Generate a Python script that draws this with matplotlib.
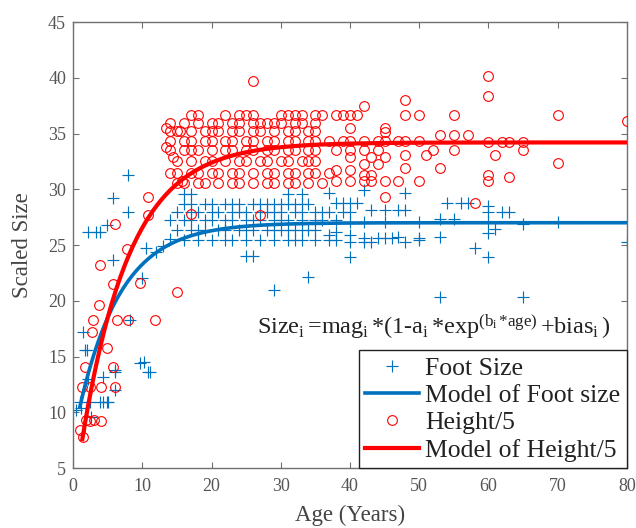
import numpy as np
import matplotlib
matplotlib.use("Agg")
import matplotlib.pyplot as plt

# ---------------- data ----------------
foot_age = [
    # young
    0.5, 1.0, 1.2, 1.5, 1.7, 2.0, 2.1, 2.5, 2.6, 3.9, 4.4, 4.4, 4.9, 5.1, 6.1, 6.1, 6.1,
    8.2, 9.7, 10.2, 10.9, 11.1, 5.8, 9.9, 10.6, 2.2, 3.3, 3.9, 4.9, 5.8, 8.0, 8.0,
    12, 13, 14,
    # row 29.6
    16, 17, 31, 33, 37, 42, 48,
    # row 28.7
    16, 17, 19, 20, 22, 23, 24, 26, 27, 28, 29, 30, 31, 32, 33, 34, 38, 39, 40, 41, 54, 56, 57, 60,
    # row 28.0
    15, 17, 18, 20, 21, 23, 24, 25, 27, 28, 29, 30, 32, 33, 35, 36, 37, 39, 40, 43, 45, 47, 48, 60, 62, 63,
    # row 27.2
    14, 16, 17, 19, 20, 22, 23, 25, 26, 27, 29, 30, 31, 33, 35, 36, 38, 40, 42, 45, 50, 53, 55, 60, 65, 70,
    # row 26.35
    15, 17, 18, 19, 21, 22, 24, 25, 26, 28, 29, 30, 31, 32, 33, 34, 35, 37, 38, 40, 42, 44, 47, 50, 60, 61,
    # row 25.45
    16, 18, 20, 22, 23, 25, 27, 29, 31, 32, 33, 35, 37, 38, 40, 42, 43, 45, 46, 48, 50, 53, 80,
    # outliers
    25, 26, 40, 58, 60, 29, 34, 53, 65,
]
foot_size = [
    10.2, 10.9, 10.4, 17.2, 15.6, 15.6, 13.0, 10.95, 9.6, 10.95, 10.95, 13.2, 10.95, 10.95, 13.6, 12.0, 13.8,
    18.3, 14.4, 14.55, 13.6, 13.65, 23.65, 22.0, 24.7, 26.2, 26.2, 26.2, 26.8, 29.2, 31.3, 28.0,
    24.4, 24.9, 25.5,
    29.6, 29.6, 29.6, 29.6, 29.7, 29.9, 29.7,
    28.7, 28.7, 28.7, 28.7, 28.7, 28.7, 28.7, 28.7, 28.7, 28.7, 28.7, 28.7, 28.7, 28.7, 28.7, 28.7,
    28.8, 28.8, 28.8, 28.8, 28.8, 28.8, 28.8, 28.5,
    28.0, 28.0, 28.0, 28.0, 28.0, 28.0, 28.0, 28.0, 28.0, 28.0, 28.0, 28.0, 28.0, 28.0, 28.0, 28.0,
    28.0, 28.0, 28.0, 28.1, 28.1, 28.1, 28.1, 28.0, 28.0, 28.0,
    27.2, 27.2, 27.2, 27.2, 27.2, 27.2, 27.2, 27.2, 27.2, 27.2, 27.2, 27.2, 27.2, 27.2, 27.2, 27.2,
    27.2, 27.05, 27.05, 27.05, 27.05, 27.3, 27.3, 27.05, 26.9, 27.05,
    26.35, 26.35, 26.35, 26.35, 26.35, 26.35, 26.35, 26.35, 26.35, 26.35, 26.35, 26.35, 26.35, 26.35,
    26.35, 26.35, 26.35, 25.9, 26.2, 25.9, 25.6, 25.6, 25.75, 25.45, 26.1, 26.4,
    25.45, 25.45, 25.45, 25.45, 25.45, 25.45, 25.45, 25.45, 25.45, 25.45, 25.45, 25.45, 25.45, 25.45,
    25.3, 25.3, 25.3, 25.6, 25.6, 25.3, 25.6, 25.75, 25.3,
    24.0, 24.0, 23.95, 24.7, 23.95, 21.0, 22.1, 20.35, 20.35,
]

height_age = [
    # young
    1.0, 1.4, 1.9, 2.5, 3.0, 4.1, 1.25, 2.4, 4.1, 6.1, 1.7, 5.8, 4.9, 2.7, 2.9, 6.3, 8.0, 11.8,
    3.7, 5.8, 9.7, 15.0, 3.9, 7.8, 6.1, 10.9, 10.9, 17, 27, 45, 58, 80,
    13.5, 15.5, 13.5, 14.5, 15.7,
    # high outliers
    26, 48, 60, 60, 42,
    # row 36.7
    17, 18, 22, 24, 25, 26, 30, 31, 32, 33, 35, 36, 38, 39, 40, 41, 48, 50, 55, 70,
    # row 35.9
    14, 16, 18, 20, 21, 23, 24, 26, 27, 28, 29, 30, 32, 33, 35, 40, 45,
    # row 35.2
    14, 15, 17, 19, 20, 21, 23, 24, 26, 27, 29, 31, 32, 34, 35, 45,
    # row 34.3
    14, 16, 17, 19, 20, 22, 23, 25, 26, 28, 29, 31, 32, 34, 35, 37, 39, 40, 42, 44, 45, 47, 48, 50,
    60, 62, 63, 65, 53, 55, 57,
    # row 33.5
    14, 16, 17, 18, 20, 22, 23, 25, 26, 28, 29, 31, 32, 34, 35, 38, 40, 42, 44, 52, 55, 65, 48, 51, 61, 70,
    # row 32.5
    15, 17, 19, 20, 22, 24, 25, 27, 28, 30, 31, 33, 34, 35, 40, 42, 43, 44, 45, 48, 53,
    # row 31.5
    14, 15, 17, 18, 20, 21, 23, 24, 26, 28, 29, 31, 32, 34, 35, 37, 38, 40, 42, 43, 60, 60, 63,
    # row 30.6
    15, 16, 18, 19, 21, 23, 24, 26, 28, 29, 31, 32, 34, 36, 38, 40, 42, 43, 45, 47, 50,
]
height_val = [
    8.4, 7.8, 9.3, 9.2, 9.3, 9.2, 12.3, 12.3, 12.3, 12.3, 14.1, 14.1, 15.8, 17.2, 18.3, 18.3, 18.3, 18.3,
    19.6, 21.5, 21.6, 20.8, 23.2, 24.6, 26.9, 27.7, 29.3, 27.8, 27.7, 29.3, 28.8, 36.1,
    35.5, 35.2, 33.8, 32.9, 30.7,
    39.7, 38.0, 40.2, 38.4, 37.5,
    36.7, 36.7, 36.7, 36.7, 36.7, 36.7, 36.7, 36.7, 36.7, 36.7, 36.7, 36.7, 36.7, 36.7, 36.7, 36.7,
    36.7, 36.7, 36.7, 36.7,
    35.9, 35.9, 35.9, 35.9, 35.9, 35.9, 35.9, 35.9, 35.9, 35.9, 35.9, 35.9, 35.9, 35.9, 35.9, 35.5, 35.5,
    35.2, 35.2, 35.2, 35.2, 35.2, 35.2, 35.2, 35.2, 35.2, 35.2, 35.2, 35.2, 35.2, 35.2, 35.2, 35.1,
    34.3, 34.3, 34.3, 34.3, 34.3, 34.3, 34.3, 34.3, 34.3, 34.3, 34.3, 34.3, 34.3, 34.3, 34.3, 34.3,
    34.3, 34.3, 34.3, 34.3, 34.3, 34.3, 34.3, 34.3, 34.2, 34.2, 34.2, 34.2, 34.9, 34.9, 34.9,
    33.5, 33.5, 33.5, 33.5, 33.5, 33.5, 33.5, 33.5, 33.5, 33.5, 33.5, 33.5, 33.5, 33.5, 33.5, 33.5,
    33.5, 33.5, 33.5, 33.5, 33.5, 33.5, 33.1, 33.1, 33.1, 32.4,
    32.5, 32.5, 32.5, 32.5, 32.5, 32.5, 32.5, 32.5, 32.5, 32.5, 32.5, 32.5, 32.5, 32.5, 32.9, 32.3,
    32.9, 32.3, 32.9, 31.9, 31.9,
    31.5, 31.5, 31.5, 31.5, 31.5, 31.5, 31.5, 31.5, 31.5, 31.5, 31.5, 31.5, 31.5, 31.5, 31.5, 31.5,
    31.7, 31.7, 31.3, 31.3, 31.3, 30.7, 31.1,
    30.6, 30.6, 30.6, 30.6, 30.6, 30.6, 30.6, 30.6, 30.6, 30.6, 30.6, 30.6, 30.6, 30.6, 30.7, 30.7,
    30.7, 30.7, 30.7, 30.7, 30.7,
]

# model: Size = mag * (1 - a * exp(b * age)) + bias
foot_mag, foot_a, foot_b, foot_bias = 27.0, 0.72, -0.165, 0.0
height_mag, height_a, height_b, height_bias = 34.2, 0.945, -0.144, 0.0

legend_labels = ["Foot Size", "Model of Foot size", "Height/5", "Model of Height/5"]
x_ticks = [0, 10, 20, 30, 40, 50, 60, 70, 80]
y_ticks = [5, 10, 15, 20, 25, 30, 35, 40, 45]

# ---------------- drawing ----------------
plt.rcParams["font.family"] = ["Liberation Serif", "DejaVu Serif"]
plt.rcParams["mathtext.fontset"] = "custom"
plt.rcParams["mathtext.rm"] = "Liberation Serif"
plt.rcParams["mathtext.it"] = "Liberation Serif"

BLUE = "#0072BD"
RED = "#FF0000"

fig = plt.figure(figsize=(6.36, 5.28), dpi=100)
ax = fig.add_axes([0.1148, 0.1136, 0.871, 0.8447])

foot_grid = np.linspace(1.0, 80, 400)
height_grid = np.linspace(1.35, 80, 400)
foot_model = foot_mag * (1 - foot_a * np.exp(foot_b * foot_grid)) + foot_bias
height_model = height_mag * (1 - height_a * np.exp(height_b * height_grid)) + height_bias

ax.plot(foot_age, foot_size, linestyle="none", marker="+", markersize=8,
        markeredgewidth=0.85, color=BLUE, label=legend_labels[0], zorder=2)
ax.plot(foot_grid, foot_model, color=BLUE, linewidth=2.6, label=legend_labels[1], zorder=4)
ax.plot(height_age, height_val, linestyle="none", marker="o", markersize=7,
        markeredgewidth=0.8, markerfacecolor="none", color=RED, label=legend_labels[2], zorder=3)
ax.plot(height_grid, height_model, color=RED, linewidth=3.0, label=legend_labels[3], zorder=5)

ax.set_xlim(0, 80)
ax.set_ylim(5, 45)
ax.set_xticks(x_ticks)
ax.set_yticks(y_ticks)

for s in ax.spines.values():
    s.set_color("#707070")
    s.set_linewidth(1.0)
ax.tick_params(direction="in", top=True, right=True, length=4, width=0.8,
               color="#707070", labelcolor="#555555", labelsize=13)
ax.tick_params(axis="x", pad=7)
ax.tick_params(axis="y", pad=5)

ax.set_xlabel("Age (Years)", fontsize=16.5, color="#444444")
ax.xaxis.set_label_coords(0.5, -0.083)
ax.set_ylabel("Scaled Size", fontsize=16.5, color="#444444")
ax.yaxis.set_label_coords(-0.073, 0.50)

ax.text(0.332, 0.316,
        r"Size$_\mathrm{i}\,$=mag$_\mathrm{i}\,$*(1-a$_\mathrm{i}\,$*exp$^{(\mathrm{b_i}\,\mathrm{*age})}\,$+bias$_\mathrm{i}\,$)",
        transform=ax.transAxes, ha="left", va="center", fontsize=17.5, color="#222222")

leg = ax.legend(loc="lower right", bbox_to_anchor=(1.0, 0.0), borderaxespad=0.0,
                fontsize=18.5, numpoints=1, handlelength=2.1, handletextpad=0.25,
                labelspacing=0.17, borderpad=0.25, fancybox=False, framealpha=1.0,
                edgecolor="#222222")
leg.get_frame().set_linewidth(1.0)
for t in leg.get_texts():
    t.set_color("#222222")

fig.savefig("out.png", dpi=100)
